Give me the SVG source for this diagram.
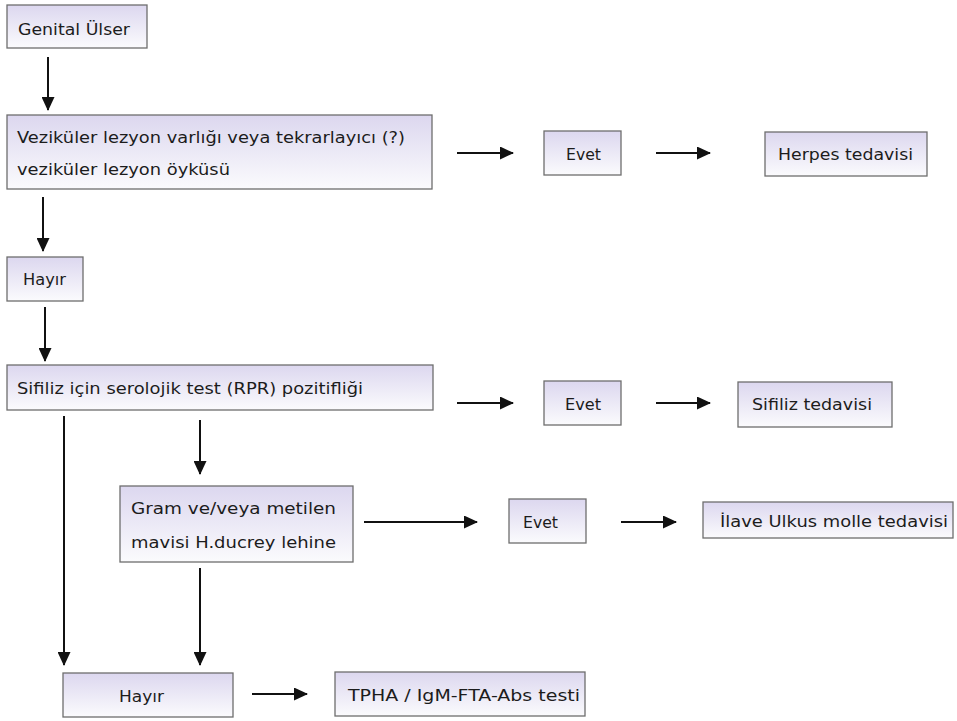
<svg xmlns="http://www.w3.org/2000/svg" width="957" height="721" viewBox="0 0 957 721">
<defs>
<linearGradient id="g" x1="0" y1="0" x2="0" y2="1">
<stop offset="0" stop-color="#dcd7ef"/>
<stop offset="1" stop-color="#fbfbfd"/>
</linearGradient>
<marker id="ah" markerWidth="14" markerHeight="13" refX="13" refY="6.5" orient="auto" markerUnits="userSpaceOnUse">
<path d="M0,0 L14,6.5 L0,13 Z" fill="#111"/>
</marker>
<style>
.box{fill:url(#g);stroke:#6e6e6e;stroke-width:1.3}
.t{font-family:"DejaVu Sans","Liberation Sans",sans-serif;font-size:16.5px;fill:#1c1c1c}
.c{stroke:#111;stroke-width:2;fill:none;marker-end:url(#ah)}
</style>
</defs>
<rect width="957" height="721" fill="#ffffff"/>
<g id="connectors">
<line class="c" x1="48" y1="57" x2="48" y2="110"/>
<line class="c" x1="457" y1="153" x2="513" y2="153"/>
<line class="c" x1="656" y1="153" x2="710" y2="153"/>
<line class="c" x1="43" y1="197" x2="43" y2="251"/>
<line class="c" x1="45" y1="307" x2="45" y2="361"/>
<line class="c" x1="457" y1="403" x2="513" y2="403"/>
<line class="c" x1="656" y1="403" x2="710" y2="403"/>
<line class="c" x1="64" y1="416" x2="64" y2="665"/>
<line class="c" x1="200" y1="420" x2="200" y2="474"/>
<line class="c" x1="364" y1="522" x2="477" y2="522"/>
<line class="c" x1="621" y1="522" x2="676" y2="522"/>
<line class="c" x1="200" y1="568" x2="200" y2="665"/>
<line class="c" x1="252" y1="694" x2="307" y2="694"/>
</g>
<g id="genital">
<rect class="box" x="7" y="5" width="140" height="43"/>
<text class="t" x="18" y="35" textLength="112" lengthAdjust="spacingAndGlyphs">Genital Ülser</text>
</g>
<g id="vezikuler">
<rect class="box" x="7" y="115" width="425" height="74"/>
<text class="t" x="17" y="143" textLength="388" lengthAdjust="spacingAndGlyphs">Veziküler lezyon varlığı veya tekrarlayıcı (?)</text>
<text class="t" x="17" y="175" textLength="213" lengthAdjust="spacingAndGlyphs">veziküler lezyon öyküsü</text>
</g>
<g id="evet1">
<rect class="box" x="544" y="131" width="77" height="44"/>
<text class="t" x="566" y="160" textLength="35" lengthAdjust="spacingAndGlyphs">Evet</text>
</g>
<g id="herpes">
<rect class="box" x="765" y="132" width="162" height="44"/>
<text class="t" x="778" y="160" textLength="135" lengthAdjust="spacingAndGlyphs">Herpes tedavisi</text>
</g>
<g id="hayir1">
<rect class="box" x="7" y="257" width="76" height="44"/>
<text class="t" x="23" y="285" textLength="43" lengthAdjust="spacingAndGlyphs">Hayır</text>
</g>
<g id="sifiliz">
<rect class="box" x="7" y="365" width="426" height="45"/>
<text class="t" x="17" y="394" textLength="346" lengthAdjust="spacingAndGlyphs">Sifiliz için serolojik test (RPR) pozitifliği</text>
</g>
<g id="evet2">
<rect class="box" x="544" y="381" width="77" height="44"/>
<text class="t" x="565" y="410" textLength="36" lengthAdjust="spacingAndGlyphs">Evet</text>
</g>
<g id="sifiliz-tedavi">
<rect class="box" x="738" y="382" width="154" height="45"/>
<text class="t" x="752" y="410" textLength="120" lengthAdjust="spacingAndGlyphs">Sifiliz tedavisi</text>
</g>
<g id="gram">
<rect class="box" x="120" y="486" width="233" height="76"/>
<text class="t" x="131" y="514" textLength="205" lengthAdjust="spacingAndGlyphs">Gram ve/veya metilen</text>
<text class="t" x="131" y="548" textLength="205" lengthAdjust="spacingAndGlyphs">mavisi H.ducrey lehine</text>
</g>
<g id="evet3">
<rect class="box" x="509" y="499" width="77" height="44"/>
<text class="t" x="523" y="528" textLength="35" lengthAdjust="spacingAndGlyphs">Evet</text>
</g>
<g id="ilave">
<rect class="box" x="703" y="502" width="250" height="36"/>
<text class="t" x="720" y="527" textLength="228" lengthAdjust="spacingAndGlyphs">İlave Ulkus molle tedavisi</text>
</g>
<g id="hayir2">
<rect class="box" x="63" y="673" width="170" height="44"/>
<text class="t" x="119" y="702" textLength="45" lengthAdjust="spacingAndGlyphs">Hayır</text>
</g>
<g id="tpha">
<rect class="box" x="335" y="672" width="250" height="44"/>
<text class="t" x="348" y="701" textLength="232" lengthAdjust="spacingAndGlyphs">TPHA / IgM-FTA-Abs testi</text>
</g>
</svg>
